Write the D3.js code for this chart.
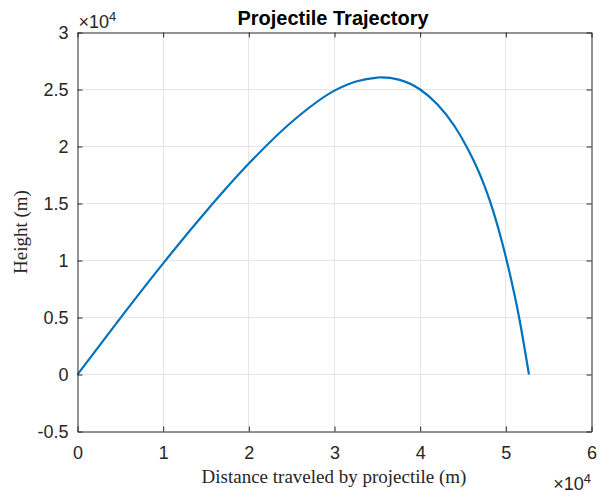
<!DOCTYPE html>
<html>
<head>
<meta charset="utf-8">
<script src="https://cdn.jsdelivr.net/npm/d3@7"></script>
<style>
  html, body { margin: 0; padding: 0; background: #fff; }
  svg { display: block; }
</style>
</head>
<body>
<svg id="chart" width="601" height="492"></svg>
<script>
// ---- data (metres) ----
const distance = [0, 5000, 10000, 15000, 20000, 25000, 30000, 32500, 35000, 35500, 37500, 40000, 42000, 44000, 45500, 46500, 47500, 48500, 49500, 50500, 51500, 52700];
const height   = [0, 4950, 9750, 14300, 18500, 22150, 24900, 25700, 26050, 26070, 25870, 25000, 23700, 21800, 19870, 18350, 16570, 14400, 11770, 8720, 5200, 0];
const xTicks = [0, 10000, 20000, 30000, 40000, 50000, 60000];
const yTicks = [-5000, 0, 5000, 10000, 15000, 20000, 25000, 30000];
const titleText = "Projectile Trajectory";
const xLabelText = "Distance traveled by projectile (m)";
const yLabelText = "Height (m)";

const svg = d3.select("#chart");
const L = 77.5, R = 591.5, T = 32.5, B = 431.5;
const x = d3.scaleLinear().domain([0, 60000]).range([L, R]);
const y = d3.scaleLinear().domain([-5000, 30000]).range([B, T]);
const axisCol = "#262626";
const font = "'Liberation Sans', Arial, sans-serif";
const serif = "'Liberation Serif', 'Times New Roman', serif";
const fmt = v => String(+(v / 10000).toFixed(2));

// grid
const grid = svg.append("g");
grid.selectAll(".gx").data(xTicks.slice(1, -1)).join("line")
  .attr("x1", d => Math.round(x(d) - 0.5) + 0.5).attr("x2", d => Math.round(x(d) - 0.5) + 0.5)
  .attr("y1", T).attr("y2", B)
  .attr("stroke", "#e6e6e6").attr("stroke-width", 1);
grid.selectAll(".gy").data(yTicks.slice(1, -1)).join("line")
  .attr("y1", d => Math.round(y(d) - 0.5) + 0.5).attr("y2", d => Math.round(y(d) - 0.5) + 0.5)
  .attr("x1", L).attr("x2", R)
  .attr("stroke", "#e6e6e6").attr("stroke-width", 1);

// curve
const line = d3.line().x((d, i) => x(distance[i])).y((d, i) => y(height[i])).curve(d3.curveMonotoneX);
svg.append("path").datum(distance).attr("d", line)
  .attr("fill", "none").attr("stroke", "#0072BD").attr("stroke-width", 2.2)
  .attr("stroke-linejoin", "round");

function styleAxis(g) {
  g.select(".domain").attr("stroke", axisCol).attr("stroke-width", 1);
  g.selectAll(".tick line").attr("stroke", axisCol).attr("stroke-width", 1);
  g.selectAll(".tick text").attr("fill", axisCol).style("font-family", font).style("font-size", "18px");
}

svg.append("g").attr("transform", `translate(0,${B})`)
  .call(d3.axisBottom(x).tickValues(xTicks).tickFormat(fmt).tickSize(-5).tickSizeOuter(0).tickPadding(15))
  .call(styleAxis);
svg.append("g").attr("transform", `translate(0,${T})`)
  .call(d3.axisTop(x).tickValues(xTicks).tickFormat("").tickSize(-5).tickSizeOuter(0))
  .call(styleAxis);
svg.append("g").attr("transform", `translate(${L},0)`)
  .call(d3.axisLeft(y).tickValues(yTicks).tickFormat(fmt).tickSize(-5).tickSizeOuter(0).tickPadding(9))
  .call(styleAxis);
svg.append("g").attr("transform", `translate(${R},0)`)
  .call(d3.axisRight(y).tickValues(yTicks).tickFormat("").tickSize(-5).tickSizeOuter(0))
  .call(styleAxis);

// title
svg.append("text").attr("x", 333).attr("y", 25).attr("text-anchor", "middle")
  .style("font-family", font).style("font-size", "20px").style("font-weight", "bold")
  .attr("fill", "#000").text(titleText);

// axis labels
svg.append("text").attr("x", 334).attr("y", 483).attr("text-anchor", "middle")
  .style("font-family", serif).style("font-size", "19px").attr("fill", axisCol).text(xLabelText);
svg.append("text").attr("transform", `translate(27,${(T + B) / 2}) rotate(-90)`).attr("text-anchor", "middle")
  .style("font-family", serif).style("font-size", "19px").attr("fill", axisCol).text(yLabelText);

// exponent labels
function expLabel(xPos, yBase, anchor) {
  const t = svg.append("text").attr("x", xPos).attr("y", yBase).attr("text-anchor", anchor)
    .style("font-family", font).style("font-size", "18px").attr("fill", axisCol);
  t.append("tspan").text("\u00D7");
  t.append("tspan").text("10");
  t.append("tspan").attr("dy", -7).style("font-size", "13px").text("4");
}
expLabel(78.5, 28.3, "start");
expLabel(591, 489.5, "end");
</script>
</body>
</html>
